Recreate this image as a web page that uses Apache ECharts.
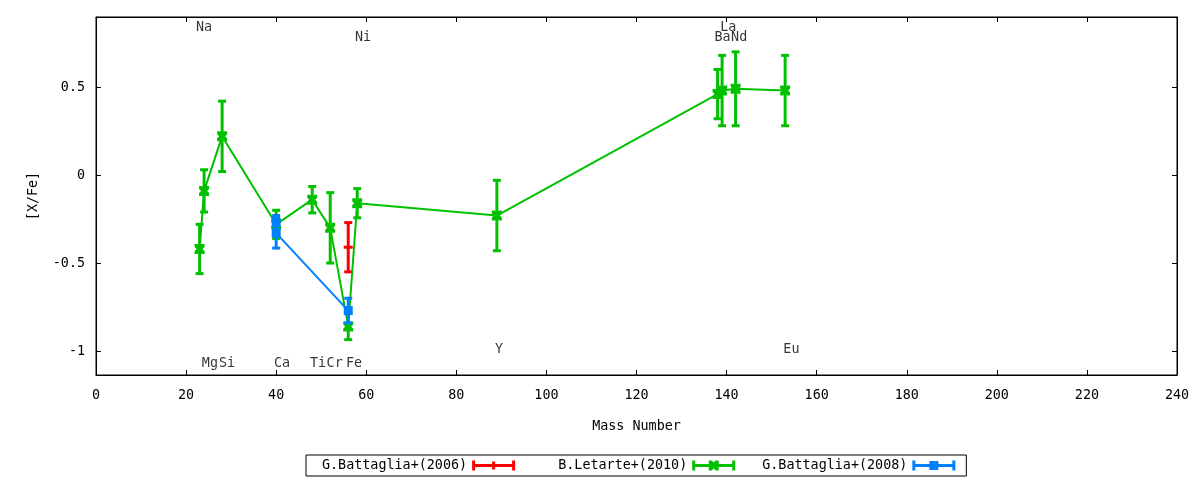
<!DOCTYPE html>
<html>
<head>
<meta charset="utf-8">
<script src="https://cdn.jsdelivr.net/npm/echarts@6/dist/echarts.min.js"></script>
<style>html,body{margin:0;padding:0;background:#fff}#c{width:1200px;height:480px}</style>
</head>
<body>
<div id="c"></div>
<script>
// ---- data ----
const xTickInterval = 20;
const yTickValues = [-1, -0.5, 0, 0.5];

const redName = 'G.Battaglia+(2006)';
const redX = [56];
const redY = [-0.41];
const redErr = [0.14];

const greenName = 'B.Letarte+(2010)';
const greenX = [23, 24, 28, 40, 48, 52, 56, 58, 89, 138, 139, 142, 153];
const greenY = [-0.42, -0.09, 0.22, -0.28, -0.14, -0.30, -0.86, -0.16, -0.23, 0.46, 0.48, 0.49, 0.48];
const greenErr = [0.14, 0.12, 0.20, 0.08, 0.075, 0.20, 0.075, 0.083, 0.20, 0.14, 0.20, 0.21, 0.20];

const blueName = 'G.Battaglia+(2008)';
const blueX = [40, 40, 56];
const blueY = [-0.27, -0.33, -0.77];
const blueErr = [0.04, 0.085, 0.07];

const elemNames = ['Na','Mg','Si','Ca','Ti','Cr','Fe','Ni','Y','Ba','La','Nd','Eu'];
const elemX = [22.2, 23.5, 27.3, 39.5, 47.5, 51.2, 55.5, 57.5, 88.6, 137.3, 138.6, 141, 152.6];
const elemY = [0.84, -1.07, -1.07, -1.07, -1.07, -1.07, -1.07, 0.78, -0.99, 0.78, 0.84, 0.78, -0.99];

// ---- chart ----
const FONT = '"DejaVu Sans Mono", "Liberation Mono", monospace';
const FS = 13.4;
const RED = '#ff0000', GREEN = '#00c000', BLUE = '#0080ff';

function pts(xs, ys) { return xs.map((x, i) => [x, ys[i]]); }
function errPts(xs, ys, es) { return xs.map((x, i) => [x, ys[i], es[i]]); }

function errRender(color, capW, lw) {
  return function (params, api) {
    const x = api.value(0), y = api.value(1), e = api.value(2);
    const t = api.coord([x, y + e]);
    const b = api.coord([x, y - e]);
    const st = { stroke: color, lineWidth: lw, fill: null };
    return {
      type: 'group',
      children: [
        { type: 'line', shape: { x1: t[0], y1: t[1], x2: b[0], y2: b[1] }, style: st },
        { type: 'line', shape: { x1: t[0] - capW / 2, y1: t[1], x2: t[0] + capW / 2, y2: t[1] }, style: st },
        { type: 'line', shape: { x1: b[0] - capW / 2, y1: b[1], x2: b[0] + capW / 2, y2: b[1] }, style: st }
      ]
    };
  };
}

const bowtie = 'path://M0,0h3l2,2l2,-2h3v3l-2,2l2,2v3h-3l-2,-2l-2,2h-3v-3l2,-2l-2,-2z';
const plusH = 'path://M0,0h10v3h-10z';

const iconRed = 'path://M0,0h3v10h-3z M40,0h3v10h-3z M0,3.5h43v3h-43z M20,1h3v8h-3z';
const iconGreen = 'path://M0,0h3v10h-3z M40,0h3v10h-3z M0,3.5h43v3h-43z M16.5,0h3l2,2l2,-2h3v3l-2,2l2,2v3h-3l-2,-2l-2,2h-3v-3l2,-2l-2,-2z';
const iconBlue = 'path://M0,0h3v10h-3z M40,0h3v10h-3z M0,3.5h43v3h-43z M17,0.5h9v9h-9z';

function pad(s, n) { while (s.length < n) s = ' ' + s; return s; }

const axisCommon = {
  min: 0, max: 240, interval: xTickInterval,
  axisLine: { onZero: false, lineStyle: { color: '#000', width: 1 } },
  splitLine: { show: false }
};

const option = {
  animation: false,
  backgroundColor: '#fff',
  textStyle: { fontFamily: FONT, color: '#000' },
  grid: { left: 96, right: 23, top: 17, bottom: 105, show: true, borderColor: '#000', borderWidth: 1, backgroundColor: 'transparent' },
  legend: {
    left: 306, top: 455,
    padding: [4, 11, 4, 16],
    borderColor: '#000', borderWidth: 1,
    itemWidth: 43, itemHeight: 10,
    itemGap: 27,
    align: 'right',
    symbolKeepAspect: false,
    textStyle: { fontFamily: FONT, fontSize: FS, color: '#000' },
    data: [
      { name: redName, icon: iconRed },
      { name: greenName, icon: iconGreen },
      { name: blueName, icon: iconBlue }
    ],
    formatter: function (n) { return pad(n, 18); },
    selectedMode: false
  },
  xAxis: [
    Object.assign({}, axisCommon, {
      type: 'value', position: 'bottom',
      name: 'Mass Number', nameLocation: 'middle', nameGap: 45,
      nameTextStyle: { fontFamily: FONT, fontSize: FS, color: '#000' },
      axisTick: { inside: true, length: 5, lineStyle: { color: '#000' } },
      axisLabel: { fontFamily: FONT, fontSize: FS, color: '#000', margin: 14 }
    }),
    Object.assign({}, axisCommon, {
      type: 'value', position: 'top',
      axisTick: { inside: true, length: 5, lineStyle: { color: '#000' } },
      axisLabel: { show: false }
    })
  ],
  yAxis: [
    {
      type: 'value', position: 'left', min: -1.136, max: 0.898,
      name: '[X/Fe]', nameLocation: 'middle', nameGap: 56, nameRotate: 90,
      nameTextStyle: { fontFamily: FONT, fontSize: FS, color: '#000' },
      axisLine: { show: true, onZero: false, lineStyle: { color: '#000' } },
      axisTick: { show: true, inside: true, length: 5, customValues: yTickValues, lineStyle: { color: '#000' } },
      axisLabel: { fontFamily: FONT, fontSize: FS, color: '#000', margin: 11, customValues: yTickValues },
      splitLine: { show: false }
    },
    {
      type: 'value', position: 'right', min: -1.136, max: 0.898,
      axisLine: { show: true, onZero: false, lineStyle: { color: '#000' } },
      axisTick: { show: true, inside: true, length: 5, customValues: yTickValues, lineStyle: { color: '#000' } },
      axisLabel: { show: false },
      splitLine: { show: false }
    }
  ],
  series: [
    {
      name: 'labels', type: 'scatter', symbolSize: 0, silent: true, z: 1,
      data: elemNames.map((n, i) => ({ name: n, value: [elemX[i], elemY[i]] })),
      label: { show: true, position: 'right', distance: 0, formatter: '{b}', fontFamily: FONT, fontSize: FS, color: '#000' }
    },
    {
      name: redName + ' err', type: 'custom', renderItem: errRender(RED, 8, 3),
      encode: { x: 0, y: 1 }, data: errPts(redX, redY, redErr), z: 2, silent: true
    },
    {
      name: redName, type: 'line', data: pts(redX, redY), z: 3,
      symbol: plusH, symbolSize: [9, 3], symbolKeepAspect: false, showSymbol: true,
      itemStyle: { color: RED }, lineStyle: { color: RED, width: 2 }
    },
    {
      name: greenName + ' err', type: 'custom', renderItem: errRender(GREEN, 8, 3),
      encode: { x: 0, y: 1 }, data: errPts(greenX, greenY, greenErr), z: 4, silent: true
    },
    {
      name: greenName, type: 'line', data: pts(greenX, greenY), z: 5,
      symbol: bowtie, symbolSize: [10, 10], showSymbol: true,
      itemStyle: { color: GREEN }, lineStyle: { color: GREEN, width: 2 }
    },
    {
      name: blueName + ' err', type: 'custom', renderItem: errRender(BLUE, 8, 3),
      encode: { x: 0, y: 1 }, data: errPts(blueX, blueY, blueErr), z: 6, silent: true
    },
    {
      name: blueName, type: 'line', data: pts(blueX, blueY), z: 7,
      symbol: 'rect', symbolSize: [9, 9], showSymbol: true,
      itemStyle: { color: BLUE }, lineStyle: { color: BLUE, width: 2 }
    }
  ]
};

const chart = echarts.init(document.getElementById('c'), null, { renderer: 'canvas' });
chart.setOption(option);
</script>
</body>
</html>
